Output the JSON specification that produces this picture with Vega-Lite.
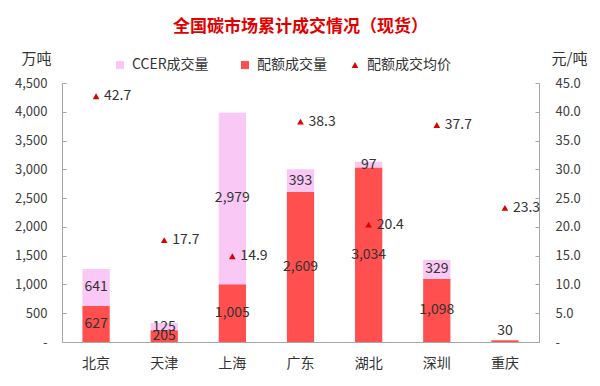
{
  "$schema": "https://vega.github.io/schema/vega-lite/v6.json",
  "width": 477,
  "height": 259,
  "autosize": {"type": "none"},
  "padding": {"left": 62, "top": 83, "right": 61, "bottom": 44},
  "background": "white",
  "config": {
    "font": "Noto Sans CJK SC",
    "view": {"stroke": null},
    "axis": {"grid": false, "domainColor": "#a6a6a6", "tickColor": "#a6a6a6", "labelColor": "#404040", "labelFont": "Noto Sans CJK SC"},
    "legend": {"padding": 0}
  },
  "title": {
    "text": "全国碳市场累计成交情况（现货）",
    "fontSize": 17,
    "fontWeight": "bold",
    "color": "#E00000",
    "anchor": "middle",
    "frame": "group",
    "offset": 15
  },
  "datasets": {
    "volume": [
      {"city": "北京", "type": "配额成交量", "volume": 627},
      {"city": "北京", "type": "CCER成交量", "volume": 641},
      {"city": "天津", "type": "配额成交量", "volume": 205},
      {"city": "天津", "type": "CCER成交量", "volume": 125},
      {"city": "上海", "type": "配额成交量", "volume": 1005},
      {"city": "上海", "type": "CCER成交量", "volume": 2979},
      {"city": "广东", "type": "配额成交量", "volume": 2609},
      {"city": "广东", "type": "CCER成交量", "volume": 393},
      {"city": "湖北", "type": "配额成交量", "volume": 3034},
      {"city": "湖北", "type": "CCER成交量", "volume": 97},
      {"city": "深圳", "type": "配额成交量", "volume": 1098},
      {"city": "深圳", "type": "CCER成交量", "volume": 329},
      {"city": "重庆", "type": "配额成交量", "volume": 30}
    ],
    "price": [
      {"city": "北京", "series": "配额成交均价", "price": 42.7},
      {"city": "天津", "series": "配额成交均价", "price": 17.7},
      {"city": "上海", "series": "配额成交均价", "price": 14.9},
      {"city": "广东", "series": "配额成交均价", "price": 38.3},
      {"city": "湖北", "series": "配额成交均价", "price": 20.4},
      {"city": "深圳", "series": "配额成交均价", "price": 37.7},
      {"city": "重庆", "series": "配额成交均价", "price": 23.3}
    ]
  },
  "encoding": {
    "x": {
      "field": "city",
      "type": "nominal",
      "sort": ["北京", "天津", "上海", "广东", "湖北", "深圳", "重庆"],
      "scale": {"paddingInner": 0.6, "paddingOuter": 0.3},
      "axis": {"title": null, "labelAngle": 0, "ticks": false, "labelFontSize": 14, "labelPadding": 14, "labelColor": "#333333", "domainColor": "#a6a6a6"}
    }
  },
  "layer": [
    {
      "data": {"name": "volume"},
      "encoding": {
        "y": {
          "field": "volume",
          "type": "quantitative",
          "stack": "zero",
          "scale": {"domain": [0, 4500], "nice": false},
          "axis": {
            "orient": "left",
            "values": [0, 500, 1000, 1500, 2000, 2500, 3000, 3500, 4000, 4500],
            "labelExpr": "datum.value == 0 ? '-' : format(datum.value, ',')",
            "labelFontSize": 13,
            "tickSize": -4,
            "labelPadding": 19,
            "title": "万吨",
            "titleAngle": 0,
            "titleFontSize": 15,
            "titleFontWeight": "normal",
            "titleColor": "#333333",
            "titleAlign": "center",
            "titleBaseline": "middle",
            "titleX": -26,
            "titleY": -25
          }
        },
        "order": {"field": "type", "sort": "descending"}
      },
      "layer": [
        {
          "mark": {"type": "bar"},
          "encoding": {
            "color": {
              "field": "type",
              "type": "nominal",
              "scale": {"domain": ["CCER成交量", "配额成交量"], "range": ["#F9C8F5", "#FF4F4F"]},
              "legend": {
                "title": null,
                "orient": "none",
                "direction": "horizontal",
                "legendX": 51,
                "legendY": -25,
                "symbolType": "square",
                "symbolSize": 64,
                "labelFontSize": 14,
                "labelColor": "#333333",
                "labelOffset": 5,
                "columnPadding": 29
              }
            }
          }
        },
        {
          "transform": [{"filter": "datum.volume >= 50"}],
          "mark": {"type": "text", "fontSize": 14, "color": "#333333"},
          "encoding": {
            "y": {"field": "volume", "type": "quantitative", "stack": "zero", "bandPosition": 0.5},
            "text": {"field": "volume", "type": "quantitative", "format": ","}
          }
        },
        {
          "transform": [{"filter": "datum.volume < 50"}],
          "mark": {"type": "text", "fontSize": 14, "color": "#333333", "dy": -9},
          "encoding": {
            "y": {"field": "volume", "type": "quantitative"},
            "text": {"field": "volume", "type": "quantitative", "format": ","}
          }
        }
      ]
    },
    {
      "data": {"name": "price"},
      "encoding": {
        "y": {
          "field": "price",
          "type": "quantitative",
          "scale": {"domain": [0, 45], "nice": false},
          "axis": {
            "orient": "right",
            "values": [0, 5, 10, 15, 20, 25, 30, 35, 40, 45],
            "labelExpr": "datum.value == 0 ? '-' : format(datum.value, '.1f')",
            "labelFontSize": 13,
            "tickSize": -4,
            "labelPadding": 20,
            "title": "元/吨",
            "titleAngle": 0,
            "titleFontSize": 15,
            "titleFontWeight": "normal",
            "titleColor": "#333333",
            "titleAlign": "center",
            "titleBaseline": "middle",
            "titleX": 30,
            "titleY": -25
          }
        }
      },
      "layer": [
        {
          "mark": {"type": "point", "shape": "triangle-up", "filled": true, "size": 45, "opacity": 1},
          "encoding": {
            "color": {
              "field": "series",
              "type": "nominal",
              "scale": {"range": ["#DD0000"]},
              "legend": {
                "title": null,
                "orient": "none",
                "legendX": 286,
                "legendY": -25,
                "symbolType": "triangle-up",
                "symbolSize": 45,
                "labelFontSize": 14,
                "labelColor": "#333333",
                "labelOffset": 5
              }
            }
          }
        },
        {
          "mark": {"type": "text", "fontSize": 14, "color": "#333333", "align": "left", "dx": 8},
          "encoding": {
            "text": {"field": "price", "type": "quantitative", "format": ".1f"}
          }
        }
      ]
    }
  ],
  "resolve": {"scale": {"y": "independent", "color": "independent"}}
}
